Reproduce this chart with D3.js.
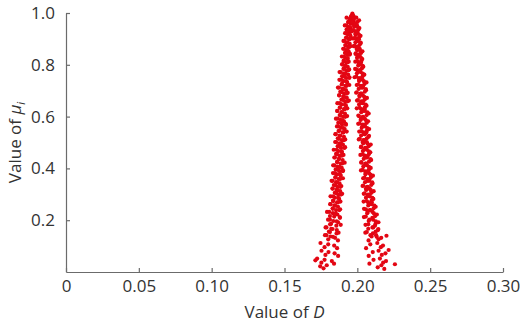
<!DOCTYPE html>
<html><head><meta charset="utf-8">
<script src="https://cdn.jsdelivr.net/npm/d3@7"></script>
<style>
body{margin:0;background:#fff;}
svg{display:block;font-family:"Open Sans","Noto Sans",sans-serif;}
</style></head>
<body><svg id="chart" width="520" height="323"></svg>
<script>
const xTicks = [0, 0.05, 0.10, 0.15, 0.20, 0.25, 0.30];
const xTickLabels = ["0", "0.05", "0.10", "0.15", "0.20", "0.25", "0.30"];
const yTicks = [0.2, 0.4, 0.6, 0.8, 1.0];
const yTickLabels = ["0.2", "0.4", "0.6", "0.8", "1.0"];

// Peak points [D, mu]
const peakPoints = [[0.1966,0.998],[0.1960,0.99],[0.1972,0.99],[0.1955,0.985],[0.1977,0.984],[0.1966,0.988],[0.1963,0.978],[0.1969,0.976],[0.1958,0.972],[0.1975,0.97]];

// Left branch: D values and mu values
const leftD = [
0.1926,0.1938,0.1946,0.1954,0.1963,0.1973,
0.1914,0.1926,0.1936,0.1944,0.1953,0.1961,
0.1916,0.1927,0.1936,0.1944,0.1953,0.1963,
0.1905,0.1917,0.1927,0.1937,0.1947,0.1953,
0.1903,0.1915,0.1923,0.1931,0.1940,0.1950,
0.1894,0.1906,0.1916,0.1924,0.1933,0.1941,
0.1897,0.1908,0.1917,0.1925,0.1934,0.1944,
0.1878,0.1895,0.1908,0.1923,0.1937,0.1946,
0.1877,0.1894,0.1906,0.1917,0.1930,0.1945,
0.1867,0.1883,0.1898,0.1909,0.1922,0.1934,
0.1875,0.1891,0.1903,0.1915,0.1928,0.1942,
0.1863,0.1880,0.1893,0.1908,0.1922,0.1931,
0.1862,0.1879,0.1891,0.1902,0.1915,0.1930,
0.1853,0.1869,0.1884,0.1895,0.1908,0.1920,
0.1860,0.1876,0.1888,0.1900,0.1913,0.1927,
0.1849,0.1866,0.1879,0.1894,0.1908,0.1917,
0.1848,0.1865,0.1877,0.1888,0.1901,0.1916,
0.1838,0.1854,0.1869,0.1880,0.1893,0.1905,
0.1846,0.1862,0.1874,0.1886,0.1899,0.1913,
0.1834,0.1851,0.1864,0.1879,0.1893,0.1902,
0.1833,0.1850,0.1862,0.1873,0.1886,0.1901,
0.1823,0.1839,0.1854,0.1865,0.1878,0.1890,
0.1829,0.1845,0.1857,0.1869,0.1882,0.1896,
0.1816,0.1833,0.1846,0.1861,0.1875,0.1884,
0.1814,0.1831,0.1843,0.1854,0.1867,0.1882,
0.1792,0.1812,0.1832,0.1863,0.1879,
0.1799,0.1820,0.1835,0.1868,0.1886,
0.1782,0.1805,0.1821,0.1859,0.1871,
0.1778,0.1800,0.1816,0.1847,0.1867,
0.1747,0.1775,0.1800,0.1841,0.1861,
0.1754,0.1781,0.1802,0.1844,0.1868,
0.1724,0.1753,0.1775,0.1825,0.1840,
0.1745,0.1768,0.1790,0.1712
];
const leftMu = [
0.982,0.966,0.977,0.959,0.972,0.962,
0.952,0.936,0.947,0.929,0.942,0.932,
0.922,0.906,0.917,0.899,0.912,0.902,
0.892,0.876,0.887,0.869,0.882,0.872,
0.862,0.846,0.857,0.839,0.852,0.842,
0.832,0.816,0.827,0.809,0.822,0.812,
0.802,0.786,0.797,0.779,0.792,0.782,
0.772,0.756,0.767,0.749,0.762,0.752,
0.742,0.726,0.737,0.719,0.732,0.722,
0.712,0.696,0.707,0.689,0.702,0.692,
0.682,0.666,0.677,0.659,0.672,0.662,
0.652,0.636,0.647,0.629,0.642,0.632,
0.622,0.606,0.617,0.599,0.612,0.602,
0.592,0.576,0.587,0.569,0.582,0.572,
0.562,0.546,0.557,0.539,0.552,0.542,
0.532,0.516,0.527,0.509,0.522,0.512,
0.502,0.486,0.497,0.479,0.492,0.482,
0.472,0.456,0.467,0.449,0.462,0.452,
0.442,0.426,0.437,0.419,0.432,0.422,
0.412,0.396,0.407,0.389,0.402,0.392,
0.382,0.366,0.377,0.359,0.372,0.362,
0.352,0.336,0.347,0.329,0.342,0.332,
0.322,0.306,0.317,0.299,0.312,0.302,
0.292,0.276,0.287,0.269,0.282,0.272,
0.262,0.246,0.257,0.239,0.252,0.242,
0.232,0.216,0.227,0.222,0.212,
0.202,0.186,0.197,0.192,0.182,
0.172,0.156,0.167,0.162,0.152,
0.142,0.126,0.137,0.132,0.122,
0.112,0.096,0.107,0.102,0.092,
0.082,0.066,0.077,0.072,0.062,
0.052,0.036,0.047,0.042,0.032,
0.022,0.014,0.026,0.045
];
// Left branch, additional points
const leftD2 = [
0.1924,0.1938,0.1949,0.1962, 0.1924,0.1939,0.1949,0.1961,
0.1909,0.1922,0.1931,0.1945, 0.1907,0.1921,0.1932,0.1945,
0.1909,0.1924,0.1934,0.1946, 0.1895,0.1908,0.1917,0.1931,
0.1886,0.1905,0.1921,0.1939, 0.1891,0.1913,0.1926,0.1944,
0.1874,0.1893,0.1906,0.1926, 0.1875,0.1894,0.1910,0.1928,
0.1880,0.1902,0.1915,0.1933, 0.1863,0.1882,0.1895,0.1915,
0.1864,0.1883,0.1899,0.1917, 0.1869,0.1891,0.1904,0.1922,
0.1852,0.1871,0.1884,0.1904, 0.1854,0.1873,0.1889,0.1907,
0.1858,0.1880,0.1893,0.1911, 0.1842,0.1861,0.1874,0.1894,
0.1843,0.1862,0.1878,0.1896, 0.1847,0.1869,0.1882,0.1900,
0.1830,0.1849,0.1862,0.1882, 0.1831,0.1850,0.1866,0.1884,
0.1834,0.1856,0.1869,0.1887, 0.1816,0.1835,0.1848,0.1868,
0.1807,0.1831,0.1852,0.1876, 0.1812,0.1841,0.1858,0.1881,
0.1788,0.1813,0.1830,0.1856, 0.1788,0.1812,0.1833,0.1857
];
const leftMu2 = [
0.952,0.964,0.946,0.959, 0.922,0.934,0.916,0.929,
0.892,0.904,0.886,0.899, 0.862,0.874,0.856,0.869,
0.832,0.844,0.826,0.839, 0.802,0.814,0.796,0.809,
0.772,0.784,0.766,0.779, 0.742,0.754,0.736,0.749,
0.712,0.724,0.706,0.719, 0.682,0.694,0.676,0.689,
0.652,0.664,0.646,0.659, 0.622,0.634,0.616,0.629,
0.592,0.604,0.586,0.599, 0.562,0.574,0.556,0.569,
0.532,0.544,0.526,0.539, 0.502,0.514,0.496,0.509,
0.472,0.484,0.466,0.479, 0.442,0.454,0.436,0.449,
0.412,0.424,0.406,0.419, 0.382,0.394,0.376,0.389,
0.352,0.364,0.346,0.359, 0.322,0.334,0.316,0.329,
0.292,0.304,0.286,0.299, 0.262,0.274,0.256,0.269,
0.232,0.244,0.226,0.239, 0.202,0.214,0.196,0.209,
0.172,0.184,0.166,0.179, 0.142,0.154,0.136,0.149
];

// Right branch: D values and mu values
const rightD = [
0.1965,0.1976,0.1985,0.1993,0.2002,0.2012,
0.1966,0.1978,0.1988,0.1998,0.2008,0.2014,
0.1975,0.1987,0.1995,0.2003,0.2012,0.2022,
0.1975,0.1987,0.1997,0.2005,0.2014,0.2022,
0.1988,0.1999,0.2008,0.2016,0.2025,0.2035,
0.1986,0.1998,0.2008,0.2018,0.2028,0.2034,
0.1994,0.2006,0.2014,0.2022,0.2031,0.2041,
0.1981,0.1997,0.2012,0.2023,0.2036,0.2048,
0.1996,0.2012,0.2024,0.2036,0.2049,0.2063,
0.1992,0.2009,0.2022,0.2037,0.2051,0.2060,
0.1998,0.2015,0.2027,0.2038,0.2051,0.2066,
0.1996,0.2012,0.2027,0.2038,0.2051,0.2063,
0.2011,0.2027,0.2039,0.2051,0.2064,0.2078,
0.2006,0.2023,0.2036,0.2051,0.2065,0.2074,
0.2013,0.2030,0.2042,0.2053,0.2066,0.2081,
0.2010,0.2026,0.2041,0.2052,0.2065,0.2077,
0.2025,0.2041,0.2053,0.2065,0.2078,0.2092,
0.2021,0.2038,0.2051,0.2066,0.2080,0.2089,
0.2027,0.2044,0.2056,0.2067,0.2080,0.2095,
0.2025,0.2041,0.2056,0.2067,0.2080,0.2092,
0.2040,0.2056,0.2068,0.2080,0.2093,0.2107,
0.2036,0.2053,0.2066,0.2081,0.2095,0.2104,
0.2044,0.2061,0.2073,0.2084,0.2097,0.2112,
0.2043,0.2059,0.2074,0.2085,0.2098,0.2110,
0.2059,0.2075,0.2087,0.2099,0.2112,0.2126,
0.2045,0.2068,0.2104,0.2122,0.2134,
0.2056,0.2078,0.2108,0.2125,0.2145,
0.2055,0.2075,0.2109,0.2126,0.2142,
0.2077,0.2098,0.2129,0.2146,0.2164,
0.2060,0.2089,0.2137,0.2161,0.2176,
0.2078,0.2106,0.2146,0.2168,0.2193,
0.2083,0.2111,0.2155,0.2177,0.2197,
0.2140,0.2165,0.2185,0.2258,0.2215,0.2200
];
const rightMu = [
0.962,0.977,0.959,0.982,0.966,0.972,
0.932,0.947,0.929,0.952,0.936,0.942,
0.902,0.917,0.899,0.922,0.906,0.912,
0.872,0.887,0.869,0.892,0.876,0.882,
0.842,0.857,0.839,0.862,0.846,0.852,
0.812,0.827,0.809,0.832,0.816,0.822,
0.782,0.797,0.779,0.802,0.786,0.792,
0.752,0.767,0.749,0.772,0.756,0.762,
0.722,0.737,0.719,0.742,0.726,0.732,
0.692,0.707,0.689,0.712,0.696,0.702,
0.662,0.677,0.659,0.682,0.666,0.672,
0.632,0.647,0.629,0.652,0.636,0.642,
0.602,0.617,0.599,0.622,0.606,0.612,
0.572,0.587,0.569,0.592,0.576,0.582,
0.542,0.557,0.539,0.562,0.546,0.552,
0.512,0.527,0.509,0.532,0.516,0.522,
0.482,0.497,0.479,0.502,0.486,0.492,
0.452,0.467,0.449,0.472,0.456,0.462,
0.422,0.437,0.419,0.442,0.426,0.432,
0.392,0.407,0.389,0.412,0.396,0.402,
0.362,0.377,0.359,0.382,0.366,0.372,
0.332,0.347,0.329,0.352,0.336,0.342,
0.302,0.317,0.299,0.322,0.306,0.312,
0.272,0.287,0.269,0.292,0.276,0.282,
0.242,0.257,0.239,0.262,0.246,0.252,
0.212,0.227,0.232,0.216,0.222,
0.182,0.197,0.202,0.186,0.192,
0.152,0.167,0.172,0.156,0.162,
0.122,0.137,0.142,0.126,0.132,
0.092,0.107,0.112,0.096,0.102,
0.062,0.077,0.082,0.066,0.072,
0.032,0.047,0.052,0.036,0.042,
0.018,0.026,0.012,0.03,0.085,0.14
];
// Right branch, additional points
const rightD2 = [
0.1965,0.1978,0.1987,0.2001, 0.1974,0.1988,0.1999,0.2012,
0.1986,0.2001,0.2011,0.2023, 0.1982,0.1995,0.2004,0.2018,
0.1989,0.2003,0.2014,0.2027, 0.2000,0.2015,0.2025,0.2037,
0.1985,0.2004,0.2017,0.2037, 0.1993,0.2012,0.2028,0.2046,
0.2005,0.2027,0.2040,0.2058, 0.1996,0.2015,0.2028,0.2048,
0.2004,0.2023,0.2039,0.2057, 0.2016,0.2038,0.2051,0.2069,
0.2007,0.2026,0.2039,0.2059, 0.2015,0.2034,0.2050,0.2068,
0.2027,0.2049,0.2062,0.2080, 0.2017,0.2036,0.2049,0.2069,
0.2026,0.2045,0.2061,0.2079, 0.2037,0.2059,0.2072,0.2090,
0.2028,0.2047,0.2060,0.2080, 0.2037,0.2056,0.2072,0.2090,
0.2049,0.2071,0.2084,0.2102, 0.2040,0.2059,0.2072,0.2092,
0.2050,0.2069,0.2085,0.2103, 0.2064,0.2086,0.2099,0.2117,
0.2046,0.2071,0.2088,0.2114, 0.2058,0.2082,0.2103,0.2127,
0.2075,0.2104,0.2121,0.2144, 0.2065,0.2090,0.2107,0.2133
];
const rightMu2 = [
0.964,0.952,0.959,0.946, 0.934,0.922,0.929,0.916,
0.904,0.892,0.899,0.886, 0.874,0.862,0.869,0.856,
0.844,0.832,0.839,0.826, 0.814,0.802,0.809,0.796,
0.784,0.772,0.779,0.766, 0.754,0.742,0.749,0.736,
0.724,0.712,0.719,0.706, 0.694,0.682,0.689,0.676,
0.664,0.652,0.659,0.646, 0.634,0.622,0.629,0.616,
0.604,0.592,0.599,0.586, 0.574,0.562,0.569,0.556,
0.544,0.532,0.539,0.526, 0.514,0.502,0.509,0.496,
0.484,0.472,0.479,0.466, 0.454,0.442,0.449,0.436,
0.424,0.412,0.419,0.406, 0.394,0.382,0.389,0.376,
0.364,0.352,0.359,0.346, 0.334,0.322,0.329,0.316,
0.304,0.292,0.299,0.286, 0.274,0.262,0.269,0.256,
0.244,0.232,0.239,0.226, 0.214,0.202,0.209,0.196,
0.184,0.172,0.179,0.166, 0.154,0.142,0.149,0.136
];

const svg = d3.select("#chart");
const margin = {left: 66, right: 17, top: 13, bottom: 51};
const W = 520, H = 323;
const x = d3.scaleLinear().domain([0, 0.30]).range([margin.left, W - margin.right]);
const y = d3.scaleLinear().domain([0, 1.0]).range([H - margin.bottom, margin.top]);

const axisColor = "#6b6b6b", textColor = "#333333";

const xAxis = d3.axisBottom(x).tickValues(xTicks).tickFormat((d, i) => xTickLabels[i])
  .tickSizeInner(-4).tickSizeOuter(0).tickPadding(8);
const yAxis = d3.axisLeft(y).tickValues(yTicks).tickFormat((d, i) => yTickLabels[i])
  .tickSizeInner(-4).tickSizeOuter(0).tickPadding(11);

const gx = svg.append("g").attr("transform", `translate(0,${y(0)})`).call(xAxis);
const gy = svg.append("g").attr("transform", `translate(${x(0)},0)`).call(yAxis);
[gx, gy].forEach(g => {
  g.select(".domain").attr("stroke", axisColor).attr("stroke-width", 1.2);
  g.selectAll(".tick line").attr("stroke", axisColor).attr("stroke-width", 1.2);
  g.selectAll(".tick text").attr("fill", textColor).style("font-size", "17px")
    .style("font-family", '"Open Sans","Noto Sans",sans-serif');
});

const pair = (ds, ms) => ds.map((d, i) => [d, ms[i]]);
const allPoints = peakPoints
  .concat(pair(leftD, leftMu), pair(leftD2, leftMu2))
  .concat(pair(rightD, rightMu), pair(rightD2, rightMu2));
svg.append("g").selectAll("circle").data(allPoints).join("circle")
  .attr("cx", d => x(d[0])).attr("cy", d => y(d[1])).attr("r", 2.1)
  .attr("fill", "#e30613");

// axis titles
const xt = svg.append("text").attr("x", (x(0) + x(0.30)) / 2).attr("y", 318)
  .attr("text-anchor", "middle").attr("fill", textColor).style("font-size", "17px");
xt.append("tspan").text("Value of ");
xt.append("tspan").attr("font-style", "italic").text("D");

const yt = svg.append("text")
  .attr("transform", `translate(21,${(y(0) + y(1)) / 2}) rotate(-90)`)
  .attr("text-anchor", "middle").attr("fill", textColor).style("font-size", "17px");
yt.append("tspan").text("Value of ");
yt.append("tspan").attr("font-style", "italic").text("μ");
yt.append("tspan").attr("font-style", "italic").attr("dy", 4).style("font-size", "11px").text("i");
</script></body></html>
